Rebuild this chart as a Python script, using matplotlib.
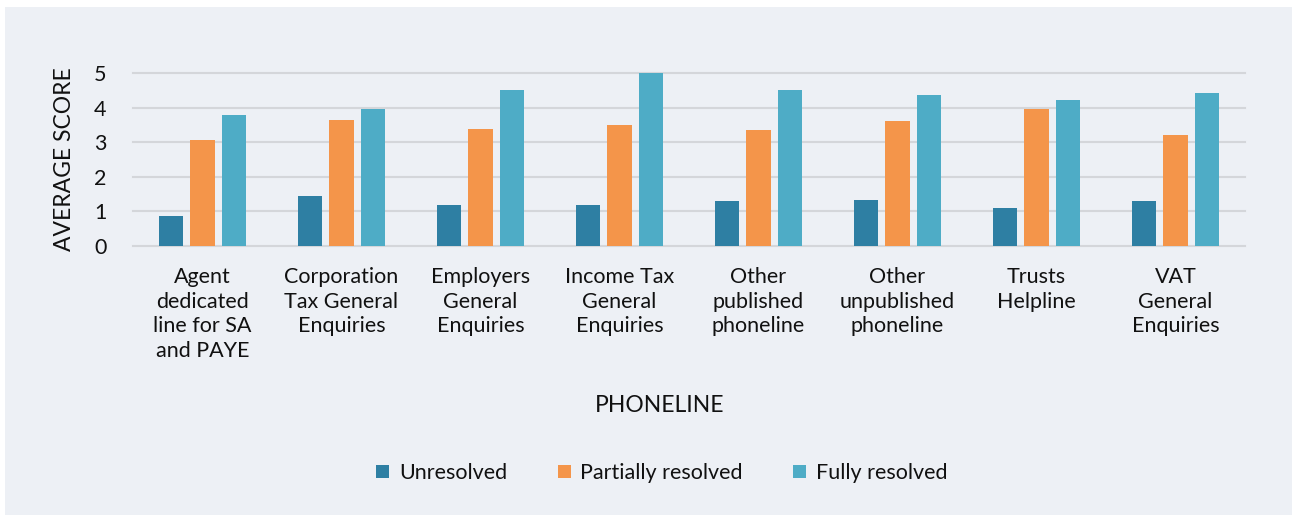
import matplotlib
matplotlib.use("Agg")
import matplotlib.pyplot as plt
import numpy as np
from matplotlib.patches import Rectangle

categories = [
    "Agent\ndedicated\nline for SA\nand PAYE",
    "Corporation\nTax General\nEnquiries",
    "Employers\nGeneral\nEnquiries",
    "Income Tax\nGeneral\nEnquiries",
    "Other\npublished\nphoneline",
    "Other\nunpublished\nphoneline",
    "Trusts\nHelpline",
    "VAT\nGeneral\nEnquiries",
]
series_names = ["Unresolved", "Partially resolved", "Fully resolved"]
unresolved = [0.87, 1.45, 1.18, 1.18, 1.30, 1.33, 1.10, 1.30]
partially = [3.06, 3.64, 3.37, 3.50, 3.35, 3.61, 3.96, 3.21]
fully = [3.79, 3.96, 4.52, 5.00, 4.50, 4.36, 4.22, 4.42]
yticks = [0, 1, 2, 3, 4, 5]

colors = ["#2e7fa3", "#f4954a", "#4eacc6"]
bg = "#edf0f5"

plt.rcParams["font.family"] = ["Lato", "DejaVu Sans"]
FS = 15.5

W, H = 1292, 515
fig = plt.figure(figsize=(W / 100, H / 100), dpi=100)
fig.patch.set_facecolor("white")
fig.patches.append(Rectangle((5 / W, 0), 1 - 5 / W, (H - 7) / H,
                             transform=fig.transFigure, facecolor=bg,
                             edgecolor="none", zorder=-10))

ax = fig.add_axes([133 / W, 1 - 246 / H, (1245 - 133) / W, (246 - 73) / H])
ax.set_facecolor(bg)
ax.patch.set_alpha(0)

x = np.arange(len(categories))
bw = 0.173
off = 0.227
for i, (vals, name) in enumerate(zip([unresolved, partially, fully], series_names)):
    ax.bar(x + (i - 1) * off, vals, width=bw, color=colors[i], label=name, zorder=3)

ax.set_xlim(-0.5, len(categories) - 0.5)
ax.set_ylim(0, 5)
ax.set_yticks(yticks)
ax.set_yticklabels([str(t) for t in yticks], fontsize=FS, color="#111111")
ax.set_xticks(x)
ax.set_xticklabels(categories, fontsize=FS, color="#111111", linespacing=1.3,
                   va="top", ha="center")
ax.tick_params(axis="both", length=0)
ax.tick_params(axis="x", pad=15)
ax.tick_params(axis="y", pad=19)
ax.grid(axis="y", color="#d4d6da", linewidth=1.5, zorder=0, clip_on=False)
for s in ax.spines.values():
    s.set_visible(False)

ax.set_ylabel("AVERAGE SCORE", fontsize=16.5, color="#111111", labelpad=14)
fig.text(660 / W, 1 - 405 / H, "PHONELINE", fontsize=16.5, color="#111111",
         ha="center", va="center")

leg = fig.legend(loc="center", bbox_to_anchor=(662 / W, 1 - 473 / H), ncol=3,
                 frameon=False, fontsize=FS, handlelength=0.6, handleheight=0.6,
                 handletextpad=0.45, columnspacing=2.35)
for t in leg.get_texts():
    t.set_color("#111111")

fig.savefig("out.png", dpi=100, facecolor=fig.get_facecolor())
